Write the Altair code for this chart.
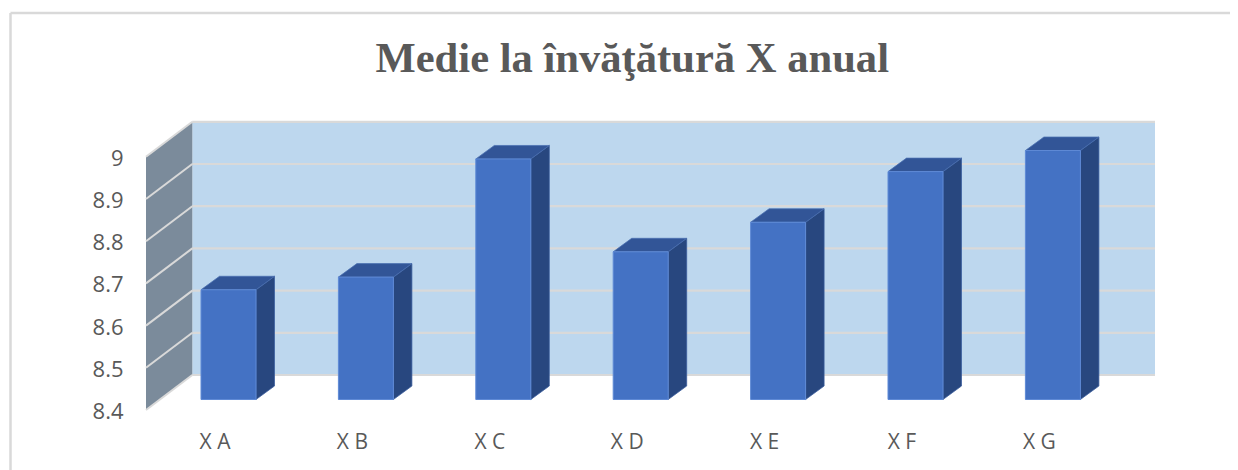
import json
import altair as alt
import pandas as pd

TITLE = "Medie la învăţătură X anual"
categories = ["X A", "X B", "X C", "X D", "X E", "X F", "X G"]
values = [8.66, 8.69, 8.97, 8.75, 8.82, 8.94, 8.99]
y_ticks = [8.4, 8.5, 8.6, 8.7, 8.8, 8.9, 9.0]

# Scale calibration (pixels per data unit, page position of the view)
VIEW_LEFT, VIEW_TOP = 10.5, 13
W, H = 1219.5, 457
PX_X = 137.4
PX_Y = 422.0
X_ZERO = 228.5   # page x of first category centre
Y_BASE = 410.0   # page y of 8.4 on the front edge
Y_MIN = 8.4
Y_MAX = 9.0

x_dom = [(VIEW_LEFT - X_ZERO) / PX_X, (VIEW_LEFT + W - X_ZERO) / PX_X]
y_dom = [Y_MIN + (Y_BASE - (VIEW_TOP + H)) / PX_Y, Y_MIN + (Y_BASE - VIEW_TOP) / PX_Y]
SX = alt.Scale(domain=x_dom, range=[0, W], nice=False, zero=False)
SY = alt.Scale(domain=y_dom, range=[H, 0], nice=False, zero=False)

# 3-D projection offsets in data units
WALL_FRONT = (146 - X_ZERO) / PX_X
WALL_BACK = (192.3 - X_ZERO) / PX_X
WALL_RIGHT = (1155 - X_ZERO) / PX_X
WALL_LIFT = 35 / PX_Y
BAR_HALF = 27.5 / PX_X
BAR_DX = 18.5 / PX_X
BAR_LIFT = 10.5 / PX_Y
BAR_DY = 13.5 / PX_Y

C_WALL = "#BDD7EE"
C_SIDE_WALL = "#7B8B9B"
C_GRID = "#D9D9D9"
C_FRONT = "#4472C4"
C_SIDE = "#28477F"
C_TOP = "#325597"
C_EDGE = "#5F8AD6"
C_TEXT = "#595959"
FONT = "Open Sans"

wall = pd.DataFrame([{"x": WALL_BACK, "x2": WALL_RIGHT, "y": Y_MIN + WALL_LIFT, "y2": Y_MAX + WALL_LIFT}])
side_wall = pd.DataFrame([
    {"x": WALL_FRONT, "y": Y_MIN, "y2": Y_MAX},
    {"x": WALL_BACK, "y": Y_MIN + WALL_LIFT, "y2": Y_MAX + WALL_LIFT},
])
grid_back = pd.DataFrame([{"x": WALL_BACK, "x2": WALL_RIGHT, "y": t + WALL_LIFT} for t in y_ticks])
grid_side = pd.DataFrame(
    [{"t": t, "x": WALL_FRONT, "y": t} for t in y_ticks]
    + [{"t": t, "x": WALL_BACK, "y": t + WALL_LIFT} for t in y_ticks]
)

front = pd.DataFrame([
    {"c": c, "x": i - BAR_HALF, "x2": i + BAR_HALF, "y": Y_MIN + BAR_LIFT, "y2": v + BAR_LIFT}
    for i, (c, v) in enumerate(zip(categories, values))
])
side_rows, top_rows = [], []
for i, (c, v) in enumerate(zip(categories, values)):
    side_rows.append({"c": c, "x": i + BAR_HALF, "y": Y_MIN + BAR_LIFT, "y2": v + BAR_LIFT})
    side_rows.append({"c": c, "x": i + BAR_HALF + BAR_DX, "y": Y_MIN + BAR_LIFT + BAR_DY, "y2": v + BAR_LIFT + BAR_DY})
    top_rows.append({"c": c, "y": v + BAR_LIFT, "x": i - BAR_HALF, "x2": i + BAR_HALF})
    top_rows.append({"c": c, "y": v + BAR_LIFT + BAR_DY, "x": i - BAR_HALF + BAR_DX, "x2": i + BAR_HALF + BAR_DX})
side = pd.DataFrame(side_rows)
top = pd.DataFrame(top_rows)

label_expr = json.dumps(categories) + "[datum.value]"
x_axis = alt.Axis(
    values=list(range(len(categories))), labelExpr=label_expr, title=None, grid=False,
    domain=False, ticks=False, offset=-50, labelPadding=11, labelOffset=-14,
    labelFont=FONT, labelFontSize=21, labelColor=C_TEXT, labelBound=False,
    labelFlush=False, labelOverlap=False,
)
y_axis = alt.Axis(
    values=y_ticks, format=".1~f", title=None, grid=False, domain=False, ticks=False,
    offset=-135.5, labelPadding=23, labelOffset=1.5,
    labelFont=FONT, labelFontSize=22, labelColor=C_TEXT, labelBound=False,
    labelFlush=False, labelOverlap=False,
)

X = lambda: alt.X("x:Q", scale=SX, axis=x_axis)
Y = lambda: alt.Y("y:Q", scale=SY, axis=y_axis)

wall_l = alt.Chart(wall).mark_rect(color=C_WALL).encode(
    x=X(), x2="x2:Q", y=Y(), y2="y2:Q")
side_wall_l = alt.Chart(side_wall).mark_area(color=C_SIDE_WALL).encode(x=X(), y=Y(), y2="y2:Q")
grid_back_l = alt.Chart(grid_back).mark_rule(color=C_GRID, strokeWidth=2.2).encode(x=X(), x2="x2:Q", y=Y())
grid_side_l = alt.Chart(grid_side).mark_line(color=C_GRID, strokeWidth=2).encode(x=X(), y=Y(), detail="t:N")
side_l = alt.Chart(side).mark_area(color=C_SIDE, stroke="#3B5E9E", strokeWidth=0.75).encode(
    x=X(), y=Y(), y2="y2:Q", detail="c:N")
top_l = alt.Chart(top).mark_area(orient="horizontal", color=C_TOP, stroke="#4A6FB0", strokeWidth=0.75).encode(
    y=Y(), x=X(), x2="x2:Q", detail="c:N")
front_l = alt.Chart(front).mark_rect(color=C_FRONT, stroke=C_EDGE, strokeWidth=1).encode(
    x=X(), x2="x2:Q", y=Y(), y2="y2:Q")
border_top = alt.Chart(wall).mark_rule(color=C_GRID, strokeWidth=2.5).encode(
    x=alt.value(0), x2=alt.value(W), y=alt.value(0))
border_left = alt.Chart(wall).mark_rule(color=C_GRID, strokeWidth=2.5).encode(
    x=alt.value(0), y=alt.value(0), y2=alt.value(H))

chart = alt.layer(
    wall_l, side_wall_l, grid_back_l, grid_side_l, side_l, top_l, front_l, border_top, border_left
).properties(
    width=W, height=H,
    title=alt.TitleParams(
        text=TITLE, font="Liberation Serif", fontSize=42.6, fontWeight="bold", color=C_TEXT,
        anchor="middle", baseline="alphabetic", dx=12, dy=103, offset=0,
    ),
    autosize=alt.AutoSizeParams(type="none"),
    padding={"left": VIEW_LEFT - 8, "top": VIEW_TOP - 8, "right": 0, "bottom": 0},
    background="white",
).configure_view(stroke=None)

chart.save("out.html", embed_options={"renderer": "svg", "actions": False})
